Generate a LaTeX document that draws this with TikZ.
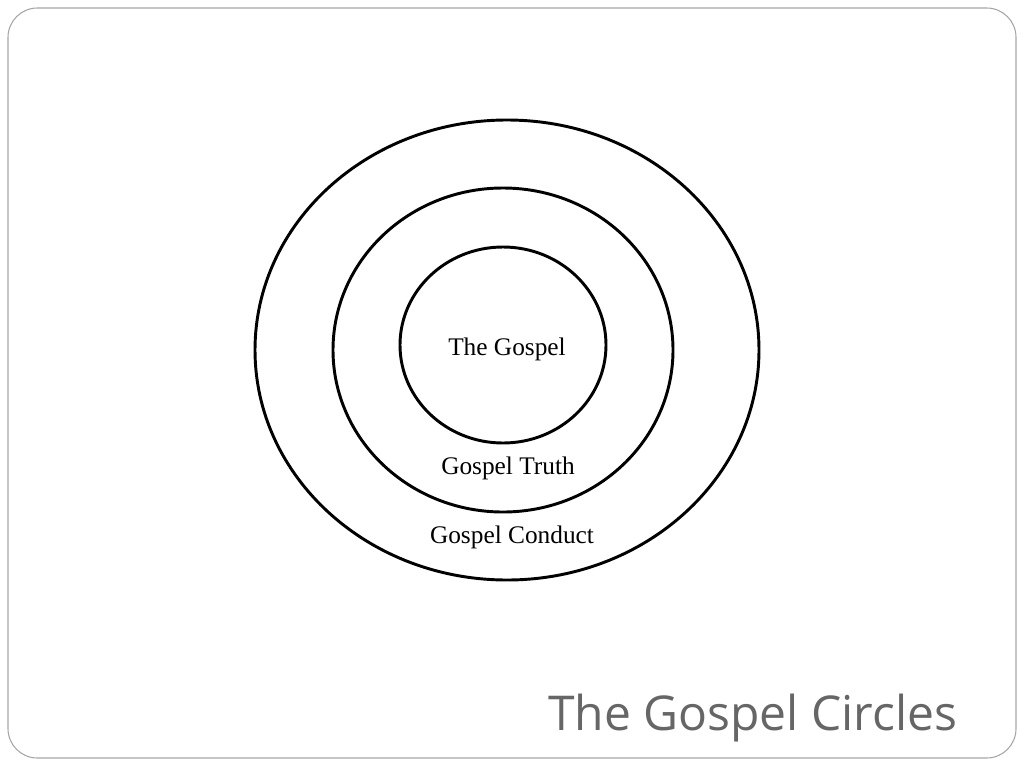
\documentclass[tikz,border=0pt]{standalone}
\usepackage{fontspec}
\setmainfont{Liberation Serif}
\newfontfamily\titlefont{Open Sans}
\begin{document}
\begin{tikzpicture}[x=0.75pt,y=-0.75pt,
  ring/.style={draw=black,line width=2.2pt},
  lbl/.style={font=\fontsize{19}{22}\selectfont}]
\useasboundingbox (0,0) rectangle (1024,768);
\draw[gray!70,line width=0.8pt,rounded corners=22pt] (8,8) rectangle (1016,758);
\draw[ring] (507,350) ellipse [x radius=252,y radius=230];
\draw[ring] (503,350) ellipse [x radius=170,y radius=162];
\draw[ring] (503,345) ellipse [x radius=103,y radius=98];
\node[lbl] (g) at (507,349) {The Gospel};
\node[lbl] (t) at (508,468) {Gospel Truth};
\node[lbl] (c) at (512,537) {Gospel Conduct};
\node[anchor=east,text=black!60,font=\titlefont\fontsize{36}{40}\selectfont] (title) at (962,718) {The Gospel Circles};
\end{tikzpicture}
\end{document}
